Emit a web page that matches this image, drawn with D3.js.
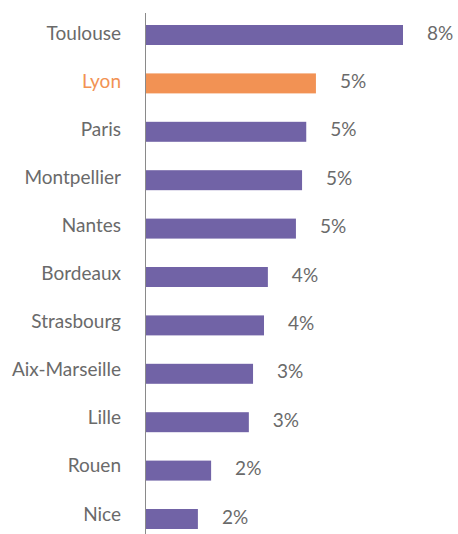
<!DOCTYPE html>
<html>
<head>
  <meta charset="utf-8">
  <title>Bar chart</title>
  <style type="text/css">
    body { margin: 0; background: #fff; }
    svg { display: block; }
    text { font-family: Lato, "Open Sans", sans-serif; font-size: 19px; fill: #6a6a6a; }
  </style>
  <script src="https://cdn.jsdelivr.net/npm/d3@7"></script>
</head>
<body>
  <script>
    var cities = ['Toulouse', 'Lyon', 'Paris', 'Montpellier', 'Nantes', 'Bordeaux',
      'Strasbourg', 'Aix-Marseille', 'Lille', 'Rouen', 'Nice'];
    var values = [8.0, 5.3, 5.0, 4.87, 4.68, 3.81, 3.69, 3.35, 3.22, 2.05, 1.64];
    var highlight = 'Lyon';

    var width = 458, height = 534, x0 = 145;

    var svg = d3.select('body').append('svg')
      .attr('width', width)
      .attr('height', height);

    var x = d3.scaleLinear().domain([0, 8]).range([x0, x0 + 258]);

    var y = d3.scaleBand().domain(cities)
      .range([10.8, 543.2])
      .paddingInner(0.587)
      .paddingOuter(0.2935);

    // labels sit a bit higher than the bars
    var yLab = d3.scalePoint().domain(cities).range([33, 514]);

    var data = cities.map((c, i) => ({ city: c, value: values[i] }));

    // bars
    svg.append('g').selectAll('rect')
      .data(data)
      .join('rect')
      .attr('x', x(0))
      .attr('y', d => y(d.city))
      .attr('width', d => x(d.value) - x(0))
      .attr('height', y.bandwidth())
      .attr('fill', d => d.city === highlight ? '#f29254' : '#7163a6');

    // value labels
    svg.append('g').selectAll('text')
      .data(data)
      .join('text')
      .attr('x', d => x(d.value) + 24)
      .attr('y', d => y(d.city) + y.bandwidth() / 2 - 2)
      .attr('dy', '0.35em')
      .text(d => Math.round(d.value) + '%');

    // category axis
    var axis = svg.append('g')
      .attr('transform', `translate(${x0},0)`)
      .call(d3.axisLeft(yLab).tickSize(0).tickPadding(24));
    axis.select('.domain').remove();
    axis.selectAll('text')
      .style('font-family', 'Lato, "Open Sans", sans-serif')
      .style('font-size', '19px')
      .style('fill', d => d === highlight ? '#f29254' : '#6a6a6a');

    svg.append('line')
      .attr('x1', x0 + 0.5).attr('x2', x0 + 0.5)
      .attr('y1', 13).attr('y2', height)
      .attr('stroke', '#8a8a8a')
      .attr('stroke-width', 1);
  </script>
</body>
</html>
